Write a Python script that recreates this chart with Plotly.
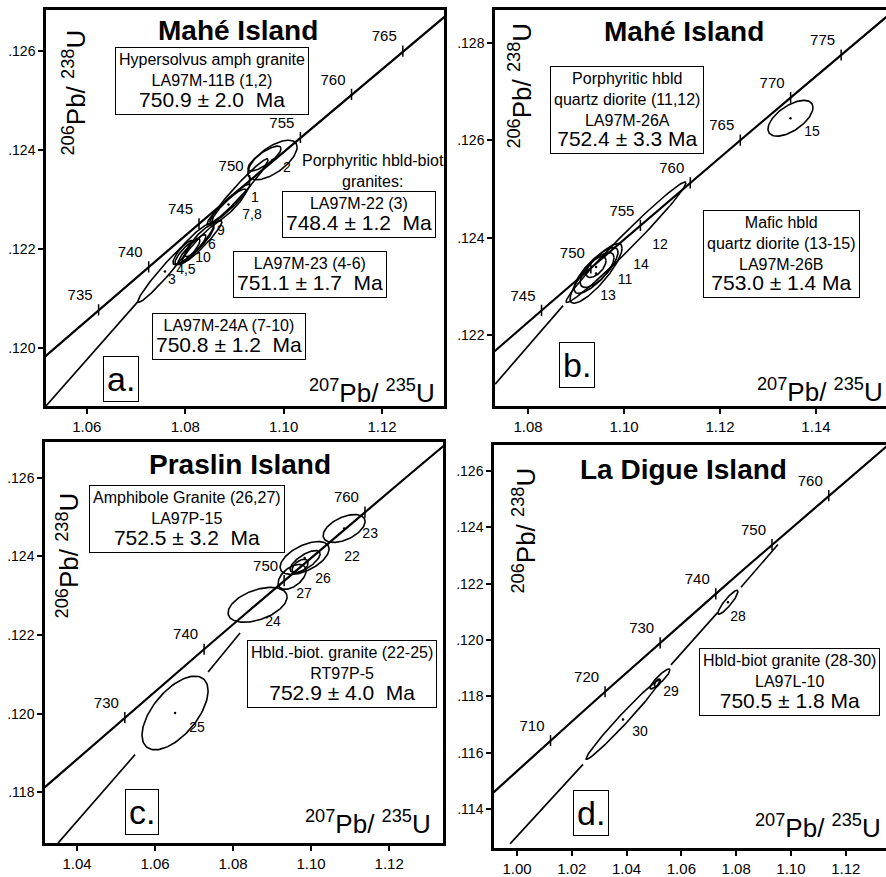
import numpy as np
import plotly.graph_objects as go

W, H = 886, 877
FONT = "Liberation Sans, Arial, Helvetica, sans-serif"

# ---------------- concordia nodes (age Ma, 207Pb/235U, 206Pb/238U) ----------------
conc_age = [690, 695, 700, 705, 710, 715, 720, 725, 730, 735, 740, 745, 750, 755, 760, 765, 770, 775, 780]
conc_x = [0.97298, 0.98272, 0.99251, 1.00235, 1.01223, 1.02216, 1.03215, 1.04218, 1.05226, 1.06239,
          1.07257, 1.08280, 1.09308, 1.10341, 1.11380, 1.12423, 1.13472, 1.14525, 1.15585]
conc_y = [0.112975, 0.113838, 0.114703, 0.115567, 0.116433, 0.117299, 0.118166, 0.119034, 0.119902, 0.120772,
          0.121640, 0.122511, 0.123382, 0.124254, 0.125126, 0.126000, 0.126874, 0.127747, 0.128623]

# ---------------- panel a : Mahé Island ----------------
a_ell_cx = [1.07587, 1.08045, 1.08136, 1.08289, 1.08340, 1.08167, 1.08879, 1.08889, 1.09093, 1.09611, 1.09774]
a_ell_cy = [0.12155, 0.12195, 0.12199, 0.12217, 0.12215, 0.12211, 0.12290, 0.12287, 0.12318, 0.12383, 0.12380]
a_ell_sx = [0.00549, 0.00254, 0.00285, 0.00295, 0.00407, 0.00417, 0.00437, 0.00346, 0.00590, 0.00336, 0.00500]
a_ell_sy = [0.000623, 0.000261, 0.000302, 0.000322, 0.000422, 0.000422, 0.000412, 0.000342, 0.000643, 0.000251, 0.000400]
a_ell_rho = [0.97, 0.85, 0.90, 0.88, 0.95, 0.90, 0.95, 0.90, 0.97, 0.80, 0.65]
a_ell_dot = [1, 0, 0, 0, 0, 0, 1, 0, 0, 0, 1]
a_lab_text = ["2", "1", "7,8", "9", "6", "10", "4,5", "3"]
a_lab_x = [1.10069, 1.09418, 1.09357, 1.08726, 1.08543, 1.08360, 1.08014, 1.07729]
a_lab_y = [0.12362, 0.12302, 0.12267, 0.12235, 0.12207, 0.12181, 0.12157, 0.12137]
a_disc_x = [1.05166, 1.07038]
a_disc_y = [0.11883, 0.12094]
a_ages = [735, 740, 745, 750, 755, 760, 765]
a_xticks = [1.06, 1.08, 1.10, 1.12]
a_yticks = [0.120, 0.122, 0.124, 0.126]

# ---------------- panel b : Mahé Island ----------------
b_ell_cx = [1.13469, 1.10042, 1.09417, 1.09417, 1.09438, 1.09417]
b_ell_cy = [0.12645, 0.12391, 0.12327, 0.12333, 0.12334, 0.12340]
b_ell_sx = [0.00469, 0.01250, 0.00542, 0.00458, 0.00354, 0.00208]
b_ell_sy = [0.000367, 0.001235, 0.000612, 0.000469, 0.000357, 0.000214]
b_ell_rho = [0.60, 0.985, 0.85, 0.80, 0.70, 0.60]
b_ell_dot = [1, 0, 1, 0, 0, 1]
b_lab_text = ["15", "12", "14", "11", "13"]
b_lab_x = [1.13917, 1.10750, 1.10354, 1.10021, 1.09667]
b_lab_y = [0.12616, 0.12384, 0.12343, 0.12312, 0.12280]
b_disc_x = [1.07313, 1.08729]
b_disc_y = [0.12100, 0.12261]
b_ages = [745, 750, 755, 760, 765, 770, 775]
b_xticks = [1.08, 1.10, 1.12, 1.14]
b_yticks = [0.122, 0.124, 0.126, 0.128]

# ---------------- panel c : Praslin Island ----------------
c_ell_cx = [1.06513, 1.08628, 1.09513, 1.09846, 1.09833, 1.09718, 1.10846]
c_ell_cy = [0.12002, 0.12277, 0.12348, 0.12387, 0.12396, 0.12375, 0.12471]
c_ell_sx = [0.00846, 0.00756, 0.00359, 0.00385, 0.00628, 0.00205, 0.00538]
c_ell_sy = [0.000937, 0.000443, 0.000317, 0.000279, 0.000418, 0.000177, 0.000354]
c_ell_rho = [0.60, 0.45, 0.50, 0.70, 0.55, 0.50, 0.50]
c_ell_dot = [1, 0, 0, 0, 1, 0, 1]
c_lab_text = ["23", "22", "26", "27", "24", "25"]
c_lab_x = [1.11513, 1.11051, 1.10308, 1.09821, 1.09026, 1.07077]
c_lab_y = [0.12456, 0.12397, 0.12342, 0.12304, 0.12233, 0.11962]
c_disc_x = [1.03513, 1.05487, None, 1.07359, 1.08179]
c_disc_y = [0.11671, 0.11896, None, 0.12106, 0.12205]
c_ages = [730, 740, 750, 760]
c_xticks = [1.04, 1.06, 1.08, 1.10, 1.12]
c_yticks = [0.118, 0.120, 0.122, 0.124, 0.126]

# ---------------- panel d : La Digue Island ----------------
d_ell_cx = [1.03869, 1.05219, 1.05128, 1.07701]
d_ell_cy = [0.11718, 0.11862, 0.11848, 0.12134]
d_ell_sx = [0.01350, 0.00365, 0.00110, 0.00365]
d_ell_sy = [0.001411, 0.000353, 0.000141, 0.000423]
d_ell_rho = [0.985, 0.90, 0.50, 0.90]
d_ell_dot = [1, 0, 0, 1]
d_lab_text = ["28", "29", "30"]
d_lab_x = [1.08066, 1.05620, 1.04489]
d_lab_y = [0.12081, 0.11813, 0.11672]
d_disc_x = [0.99745, 1.02409, None, 1.05620, 1.07336, None, 1.08175, 1.09525]
d_disc_y = [0.11277, 0.11559, None, 0.11912, 0.12099, None, 0.12187, 0.12339]
d_ages = [710, 720, 730, 740, 750, 760]
d_xticks = [1.00, 1.02, 1.04, 1.06, 1.08, 1.10, 1.12]
d_yticks = [0.114, 0.116, 0.118, 0.120, 0.122, 0.124, 0.126]

# ---------------- layout geometry (pixels) ----------------
frames = {
    "a": dict(x0=46, x1=444, y0=10, y1=408, xr=[1.0517, 1.1326], yr=[0.11883, 0.12683], mirror_y=True),
    "b": dict(x0=495, x1=886, y0=10, y1=408, xr=[1.0731, 1.1546], yr=[0.12055, 0.12867], mirror_y=False),
    "c": dict(x0=45, x1=443, y0=444, y1=847, xr=[1.0318, 1.1338], yr=[0.11671, 0.12691], mirror_y=True),
    "d": dict(x0=494, x1=886, y0=447, y1=852, xr=[0.9916, 1.1347], yr=[0.11262, 0.12692], mirror_y=False),
}

panels = {
    "a": (a_ell_cx, a_ell_cy, a_ell_sx, a_ell_sy, a_ell_rho, a_ell_dot, a_lab_text, a_lab_x, a_lab_y,
          a_disc_x, a_disc_y, a_ages, a_xticks, a_yticks),
    "b": (b_ell_cx, b_ell_cy, b_ell_sx, b_ell_sy, b_ell_rho, b_ell_dot, b_lab_text, b_lab_x, b_lab_y,
          b_disc_x, b_disc_y, b_ages, b_xticks, b_yticks),
    "c": (c_ell_cx, c_ell_cy, c_ell_sx, c_ell_sy, c_ell_rho, c_ell_dot, c_lab_text, c_lab_x, c_lab_y,
          c_disc_x, c_disc_y, c_ages, c_xticks, c_yticks),
    "d": (d_ell_cx, d_ell_cy, d_ell_sx, d_ell_sy, d_ell_rho, d_ell_dot, d_lab_text, d_lab_x, d_lab_y,
          d_disc_x, d_disc_y, d_ages, d_xticks, d_yticks),
}


def ellipse_path(cx, cy, sx, sy, rho, n=120):
    t = np.linspace(0, 2 * np.pi, n)
    x = cx + sx * np.cos(t)
    y = cy + sy * (rho * np.cos(t) + np.sqrt(1 - rho ** 2) * np.sin(t))
    return list(x) + [None], list(y) + [None]


fig = go.Figure()
layout_axes = {}
for i, key in enumerate(["a", "b", "c", "d"]):
    n = "" if i == 0 else str(i + 1)
    xa, ya = "x" + n, "y" + n
    f = frames[key]
    (ecx, ecy, esx, esy, erho, edot, ltxt, lx, ly, dx, dy, ages, xt, yt) = panels[key]

    # concordia
    fig.add_trace(go.Scatter(x=conc_x, y=conc_y, mode="lines", xaxis=xa, yaxis=ya,
                             line=dict(color="black", width=2.2), hoverinfo="skip"))
    # age ticks + labels
    ax = [conc_x[conc_age.index(a)] for a in ages]
    ay = [conc_y[conc_age.index(a)] for a in ages]
    fig.add_trace(go.Scatter(x=ax, y=ay, mode="markers+text", xaxis=xa, yaxis=ya,
                             marker=dict(symbol="line-ns", size=8, line=dict(color="black", width=1.5)),
                             text=[str(a) for a in ages], textposition="top left",
                             textfont=dict(family=FONT, size=15, color="black"), hoverinfo="skip"))
    # discordia
    fig.add_trace(go.Scatter(x=dx, y=dy, mode="lines", xaxis=xa, yaxis=ya, connectgaps=False,
                             line=dict(color="black", width=1.6), hoverinfo="skip"))
    # ellipses
    ex, ey = [], []
    for j in range(len(ecx)):
        px, py = ellipse_path(ecx[j], ecy[j], esx[j], esy[j], erho[j])
        ex += px
        ey += py
    fig.add_trace(go.Scatter(x=ex, y=ey, mode="lines", xaxis=xa, yaxis=ya, connectgaps=False,
                             line=dict(color="black", width=1.6), hoverinfo="skip"))
    # centre dots
    dxs = [ecx[j] for j in range(len(ecx)) if edot[j]]
    dys = [ecy[j] for j in range(len(ecy)) if edot[j]]
    fig.add_trace(go.Scatter(x=dxs, y=dys, mode="markers", xaxis=xa, yaxis=ya,
                             marker=dict(size=2.5, color="black"), hoverinfo="skip"))
    # ellipse labels
    fig.add_trace(go.Scatter(x=lx, y=ly, mode="text", xaxis=xa, yaxis=ya, text=ltxt,
                             textposition="middle center",
                             textfont=dict(family=FONT, size=14, color="black"), hoverinfo="skip"))

    common = dict(showline=True, linecolor="black", linewidth=2.5, ticks="outside", ticklen=5,
                  tickwidth=1.5, tickcolor="black", showgrid=False, zeroline=False)
    layout_axes["xaxis" + n] = dict(common, domain=[f["x0"] / W, f["x1"] / W], range=f["xr"],
                                    anchor=ya, mirror=True, tickvals=xt,
                                    ticktext=["%.2f" % v for v in xt],
                                    tickfont=dict(family=FONT, size=15, color="black"))
    layout_axes["yaxis" + n] = dict(common, domain=[1 - f["y1"] / H, 1 - f["y0"] / H], range=f["yr"],
                                    anchor=xa, mirror=f["mirror_y"], tickvals=yt,
                                    ticktext=[("%.3f" % v)[1:] for v in yt],
                                    tickfont=dict(family=FONT, size=14, color="black"))


def P(x, y):
    return x / W, 1 - y / H


BIG = "<span style='font-size:21px'>%s</span>"
SP = " \u00a0"
annotations = []


def add_text(px, py, text, size=16, border=True, angle=0):
    x, y = P(px, py)
    d = dict(x=x, y=y, xref="paper", yref="paper", text=text, showarrow=False,
             xanchor="center", yanchor="middle", align="center", textangle=angle,
             font=dict(family=FONT, size=size, color="black"))
    if border:
        d.update(bordercolor="black", borderwidth=1, borderpad=3, bgcolor="white")
    annotations.append(d)


YT = "<sup>206</sup>Pb/ <sup>238</sup>U"
XT = "<sup>207</sup>Pb/ <sup>235</sup>U"

# panel a
add_text(238, 31, "<b>Mahé Island</b>", size=28, border=False)
add_text(212, 81, "Hypersolvus amph granite<br>LA97M-11B (1,2)<br>" + BIG % ("750.9 ± 2.0" + SP + "Ma"))
add_text(373, 172, "Porphyritic hbld-biot<br>granites:", border=False)
add_text(359, 215, "LA97M-22 (3)<br>" + BIG % ("748.4 ± 1.2" + SP + "Ma"))
add_text(310, 276, "LA97M-23 (4-6)<br>" + BIG % ("751.1 ± 1.7" + SP + "Ma"))
add_text(229, 338, "LA97M-24A (7-10)<br>" + BIG % ("750.8 ± 1.2" + SP + "Ma"))
add_text(121, 381, "a.", size=34)
add_text(75, 93, YT, size=26, border=False, angle=-90)
add_text(372, 393, XT, size=26, border=False)

# panel b
add_text(684, 32, "<b>Mahé Island</b>", size=28, border=False)
add_text(627, 111, "Porphyritic hbld<br>quartz diorite (11,12)<br>LA97M-26A<br>" + BIG % "752.4 ± 3.3 Ma")
add_text(781, 255, "Mafic hbld<br>quartz diorite (13-15)<br>LA97M-26B<br>" + BIG % "753.0 ± 1.4 Ma")
add_text(577, 367, "b.", size=34)
add_text(521, 86, YT, size=26, border=False, angle=-90)
add_text(820, 392, XT, size=26, border=False)

# panel c
add_text(240, 467, "<b>Praslin Island</b>", size=28, border=False)
add_text(187, 521, "Amphibole Granite (26,27)<br>LA97P-15<br>" + BIG % ("752.5 ± 3.2" + SP + "Ma"))
add_text(342, 677, "Hbld.-biot. granite (22-25)<br>RT97P-5<br>" + BIG % ("752.9 ± 4.0" + SP + "Ma"))
add_text(142, 816, "c.", size=34)
add_text(68, 558, YT, size=26, border=False, angle=-90)
add_text(368, 826, XT, size=26, border=False)

# panel d
add_text(683, 472, "<b>La Digue Island</b>", size=28, border=False)
add_text(789, 685, "Hbld-biot granite (28-30)<br>LA97L-10<br>" + BIG % "750.5 ± 1.8 Ma")
add_text(591, 817, "d.", size=34)
add_text(525, 533, YT, size=26, border=False, angle=-90)
add_text(818, 830, XT, size=26, border=False)

fig.update_layout(
    width=W, height=H, margin=dict(l=0, r=0, t=0, b=0),
    paper_bgcolor="white", plot_bgcolor="white", showlegend=False,
    font=dict(family=FONT, color="black"),
    annotations=annotations, **layout_axes,
)

fig.write_html("out.html", config={"displayModeBar": False},
               post_script="document.body.style.margin='0px';")
